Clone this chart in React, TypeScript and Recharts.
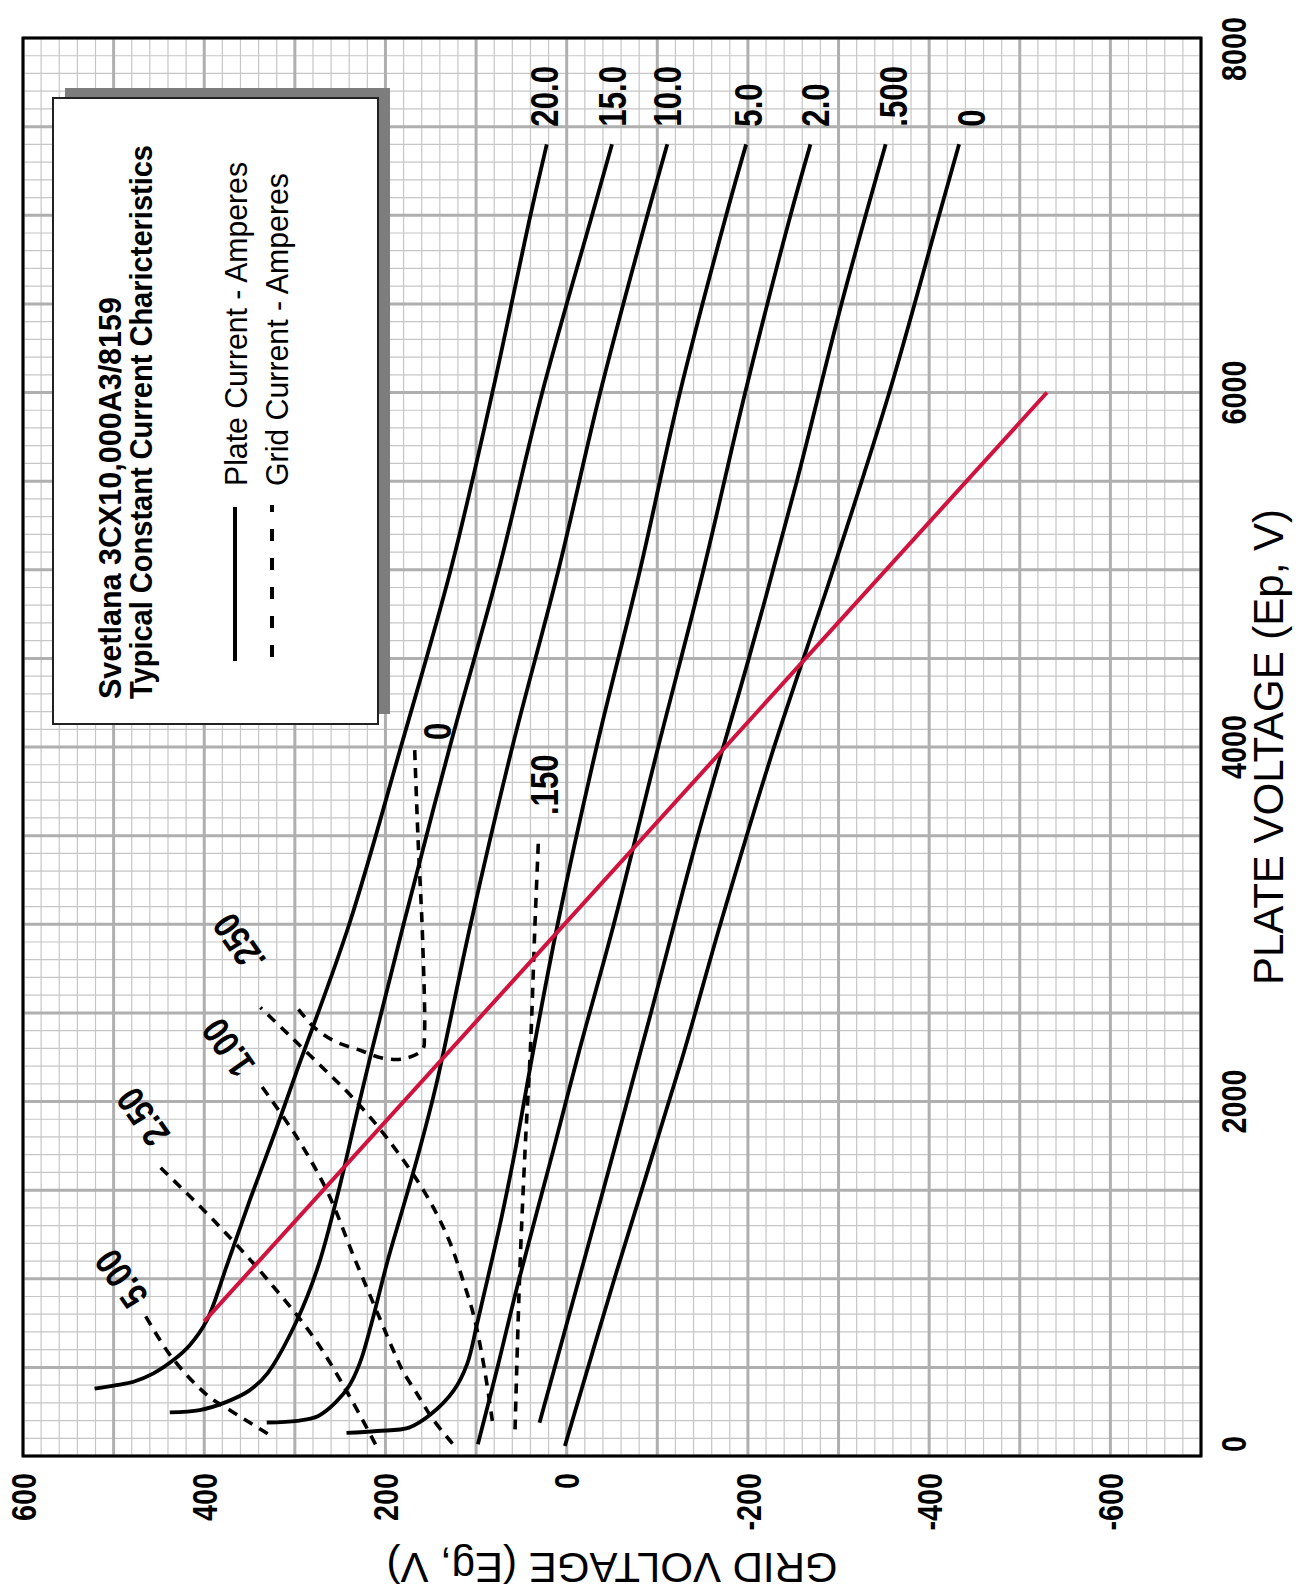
import React from 'react';
import {
  ComposedChart,
  Line,
  Scatter,
  XAxis,
  YAxis,
  CartesianGrid,
  ReferenceArea,
} from 'recharts';

// ---------- chart size (unrotated: plate voltage horizontal, grid voltage vertical) ----------
const W = 1591;
const H = 1303;

// ---------- axis ticks ----------
const plateTicks = [0, 2000, 4000, 6000, 8000];
const gridTicks = [600, 400, 200, 0, -200, -400, -600];
const range = (a: number, b: number, s: number) => {
  const r: number[] = [];
  for (let v = a; v <= b; v += s) r.push(v);
  return r;
};
const plateMinorTicks = range(0, 8000, 100);
const plateMajorTicks = range(0, 8000, 500);
const gridMinorTicks = range(-700, 600, 20);
const gridMajorTicks = range(-700, 600, 100);

// ---------- plate current curves (ep = plate V, eg = grid V) ----------
const ia20 = [
  { ep: 380, eg: 521 }, { ep: 400, eg: 497 }, { ep: 419, eg: 478 }, { ep: 466, eg: 456 },
  { ep: 541, eg: 434 }, { ep: 625, eg: 416 }, { ep: 766, eg: 397 }, { ep: 1075, eg: 375 },
  { ep: 1453, eg: 349 }, { ep: 1811, eg: 323 }, { ep: 2170, eg: 298 }, { ep: 3000, eg: 240 },
  { ep: 4000, eg: 183 }, { ep: 5000, eg: 128 }, { ep: 6000, eg: 82 }, { ep: 7000, eg: 40 },
  { ep: 7400, eg: 22 },
];
const ia15 = [
  { ep: 246, eg: 438 }, { ep: 259, eg: 405 }, { ep: 304, eg: 376 }, { ep: 370, eg: 350 },
  { ep: 468, eg: 330 }, { ep: 773, eg: 297 }, { ep: 1075, eg: 274 }, { ep: 1490, eg: 252 },
  { ep: 1925, eg: 232 }, { ep: 2289, eg: 215 }, { ep: 3000, eg: 180 }, { ep: 4000, eg: 129 },
  { ep: 5000, eg: 75 }, { ep: 6000, eg: 27 }, { ep: 7000, eg: -28 }, { ep: 7400, eg: -50 },
];
const ia10 = [
  { ep: 189, eg: 331 }, { ep: 198, eg: 297 }, { ep: 226, eg: 274 }, { ep: 302, eg: 255 },
  { ep: 396, eg: 240 }, { ep: 528, eg: 228 }, { ep: 736, eg: 216 }, { ep: 1113, eg: 197 },
  { ep: 1377, eg: 182 }, { ep: 1717, eg: 163 }, { ep: 2094, eg: 144 }, { ep: 3000, eg: 106 },
  { ep: 4000, eg: 60 }, { ep: 5000, eg: 9 }, { ep: 6000, eg: -37 }, { ep: 7000, eg: -89 },
  { ep: 7400, eg: -111 },
];
const ia5 = [
  { ep: 130, eg: 243 }, { ep: 141, eg: 209 }, { ep: 160, eg: 174 }, { ep: 235, eg: 150 },
  { ep: 367, eg: 125 }, { ep: 517, eg: 110 }, { ep: 743, eg: 99 }, { ep: 1006, eg: 87 },
  { ep: 1344, eg: 72 }, { ep: 1720, eg: 57 }, { ep: 2283, eg: 37 }, { ep: 3000, eg: 10 },
  { ep: 4000, eg: -33 }, { ep: 5000, eg: -81 }, { ep: 6000, eg: -125 }, { ep: 7000, eg: -176 },
  { ep: 7400, eg: -198 },
];
const ia2 = [
  { ep: 66, eg: 98 }, { ep: 508, eg: 76 }, { ep: 968, eg: 54 }, { ep: 1720, eg: 15 },
  { ep: 2289, eg: -14 }, { ep: 3000, eg: -52 }, { ep: 4000, eg: -101 }, { ep: 5000, eg: -151 },
  { ep: 6000, eg: -197 }, { ep: 7000, eg: -247 }, { ep: 7400, eg: -269 },
];
const ia05 = [
  { ep: 188, eg: 30 }, { ep: 1006, eg: -14 }, { ep: 1720, eg: -52 }, { ep: 2500, eg: -93 },
  { ep: 3505, eg: -145 }, { ep: 4500, eg: -201 }, { ep: 5500, eg: -254 }, { ep: 6495, eg: -303 },
  { ep: 7400, eg: -352 },
];
const ia0 = [
  { ep: 56, eg: 2 }, { ep: 1006, eg: -53 }, { ep: 2237, eg: -127 }, { ep: 3007, eg: -170 },
  { ep: 4002, eg: -229 }, { ep: 5000, eg: -294 }, { ep: 6000, eg: -356 }, { ep: 7000, eg: -411 },
  { ep: 7400, eg: -433 },
];

// ---------- grid current curves ----------
const ig5 = [
  { ep: 125, eg: 330 }, { ep: 260, eg: 372 }, { ep: 340, eg: 396 }, { ep: 558, eg: 436 },
  { ep: 800, eg: 466 },
];
const ig25 = [
  { ep: 66, eg: 211 }, { ep: 340, eg: 240 }, { ep: 660, eg: 278 }, { ep: 1000, eg: 331 },
  { ep: 1321, eg: 388 }, { ep: 1641, eg: 451 },
];
const ig1 = [
  { ep: 70, eg: 126 }, { ep: 210, eg: 148 }, { ep: 350, eg: 165 }, { ep: 472, eg: 180 },
  { ep: 592, eg: 191 }, { ep: 773, eg: 206 }, { ep: 1113, eg: 234 }, { ep: 1490, eg: 264 },
  { ep: 1792, eg: 297 }, { ep: 2110, eg: 340 },
];
const ig025 = [
  { ep: 197, eg: 82 }, { ep: 498, eg: 91 }, { ep: 780, eg: 102 }, { ep: 968, eg: 113 },
  { ep: 1231, eg: 131 }, { ep: 1490, eg: 157 }, { ep: 1792, eg: 198 }, { ep: 2021, eg: 236 },
  { ep: 2199, eg: 271 }, { ep: 2378, eg: 307 }, { ep: 2530, eg: 338 },
];
const ig015 = [
  { ep: 150, eg: 57 }, { ep: 1006, eg: 52 }, { ep: 1720, eg: 46 }, { ep: 2300, eg: 40 },
  { ep: 3000, eg: 35 }, { ep: 3496, eg: 31 },
];
const ig0 = [
  { ep: 2520, eg: 296 }, { ep: 2415, eg: 278 }, { ep: 2340, eg: 256 }, { ep: 2289, eg: 228 },
  { ep: 2246, eg: 204 }, { ep: 2241, eg: 180 }, { ep: 2293, eg: 159 }, { ep: 2368, eg: 157 },
  { ep: 2913, eg: 159 }, { ep: 3477, eg: 164 }, { ep: 4020, eg: 168 },
];

// ---------- load line ----------
const loadLine = [{ ep: 760, eg: 400 }, { ep: 6000, eg: -530 }];

// ---------- curve labels ----------
const plateLabels = [
  { ep: 7500, eg: 25, text: '20.0' },
  { ep: 7500, eg: -50, text: '15.0' },
  { ep: 7500, eg: -111, text: '10.0' },
  { ep: 7500, eg: -200, text: '5.0' },
  { ep: 7500, eg: -274, text: '2.0' },
  { ep: 7500, eg: -360, text: '.500' },
  { ep: 7500, eg: -446, text: '0' },
];
const gridLabelsFlat = [
  { ep: 4040, eg: 143, text: '0' },
  { ep: 3616, eg: 25, text: '.150' },
];
const gridLabelsTilted = [
  { ep: 2894, eg: 362, text: '.250' },
  { ep: 2302, eg: 374, text: '1.00' },
  { ep: 1912, eg: 468, text: '2.50' },
  { ep: 999, eg: 492, text: '5.00' },
];

// ---------- styling ----------
const NARROW = "'Liberation Sans Narrow', 'Liberation Sans', Arial, Helvetica, sans-serif";
const SANS = "'Liberation Sans', Arial, Helvetica, sans-serif";
const narrowW = (s: string, size: number) =>
  size *
  s.split('').reduce((a, c) => a + (c === '.' ? 0.228 : c === '-' ? 0.273 : 0.456), 0);

// centripetal Catmull-Rom curve factory
const catmullRom = (ctx: any) => {
  let pts: number[][] = [];
  return {
    areaStart() {},
    areaEnd() {},
    lineStart() {
      pts = [];
    },
    point(x: number, y: number) {
      pts.push([+x, +y]);
    },
    lineEnd() {
      if (!pts.length) return;
      ctx.moveTo(pts[0][0], pts[0][1]);
      if (pts.length === 1) return;
      for (let i = 0; i < pts.length - 1; i++) {
        const p0 = pts[Math.max(0, i - 1)];
        const p1 = pts[i];
        const p2 = pts[i + 1];
        const p3 = pts[Math.min(pts.length - 1, i + 2)];
        const l01 = Math.hypot(p1[0] - p0[0], p1[1] - p0[1]);
        const l12 = Math.hypot(p2[0] - p1[0], p2[1] - p1[1]);
        const l23 = Math.hypot(p3[0] - p2[0], p3[1] - p2[1]);
        const a01 = Math.sqrt(l01), a12 = Math.sqrt(l12), a23 = Math.sqrt(l23);
        let c1 = p1, c2 = p2;
        if (l01 > 1e-6) {
          const a = 2 * l01 + 3 * a01 * a12 + l12;
          const n = 3 * a01 * (a01 + a12);
          c1 = [(p1[0] * a - p0[0] * l12 + p2[0] * l01) / n, (p1[1] * a - p0[1] * l12 + p2[1] * l01) / n];
        }
        if (l23 > 1e-6) {
          const b = 2 * l23 + 3 * a23 * a12 + l12;
          const m = 3 * a23 * (a23 + a12);
          c2 = [(p2[0] * b + p1[0] * l23 - p3[0] * l12) / m, (p2[1] * b + p1[1] * l23 - p3[1] * l12) / m];
        }
        ctx.bezierCurveTo(c1[0], c1[1], c2[0], c2[1], p2[0], p2[1]);
      }
    },
  };
};

const GridTick = (props: any) => {
  const { x, y, payload } = props;
  const s = String(payload.value);
  return (
    <text x={x} y={y} dy="0.36em" textAnchor="end" fontFamily={NARROW} fontWeight={700}
      fontSize={35} fill="#000" textLength={narrowW(s, 35)} lengthAdjust="spacingAndGlyphs">
      {s}
    </text>
  );
};
const PlateTick = (props: any) => {
  const { x, y, payload } = props;
  const s = String(payload.value);
  const shift = payload.value === 0 ? 12 : payload.value === 8000 ? -11 : 0;
  return (
    <text x={x + shift} y={y} dy="0.36em" textAnchor="middle" fontFamily={NARROW} fontWeight={700}
      fontSize={35} fill="#000" textLength={narrowW(s, 35)} lengthAdjust="spacingAndGlyphs">
      {s}
    </text>
  );
};

const FlatLabel = (props: any) => {
  const { cx, cy, payload } = props;
  const s = payload.text;
  return (
    <text x={cx} y={cy} dy="0.36em" textAnchor="start" fontFamily={NARROW} fontWeight={700}
      fontSize={38} fill="#000" textLength={narrowW(s, 38)} lengthAdjust="spacingAndGlyphs">
      {s}
    </text>
  );
};
const TiltLabel = (props: any) => {
  const { cx, cy, payload } = props;
  const s = payload.text;
  return (
    <text x={cx} y={cy} dy="0.36em" textAnchor="middle" fontFamily={NARROW} fontWeight={700}
      fontSize={38} fill="#000" transform={`rotate(-35 ${cx} ${cy})`}
      textLength={narrowW(s, 38)} lengthAdjust="spacingAndGlyphs">
      {s}
    </text>
  );
};

const plateCurves = [ia20, ia15, ia10, ia5, ia2, ia05, ia0];
const gridCurves = [ig5, ig25, ig1, ig025, ig015, ig0];

export default function App() {
  return (
    <div
      style={{
        position: 'absolute',
        left: 0,
        top: 0,
        width: W,
        height: H,
        background: '#fff',
        transform: `translate(0px, ${W}px) rotate(-90deg)`,
        transformOrigin: '0 0',
      }}
    >
      <ComposedChart width={W} height={H} margin={{ top: 23, right: 38, bottom: 42, left: 15 }}>
        <CartesianGrid
          stroke="#c6c6c6"
          strokeWidth={1.2}
          verticalValues={plateMinorTicks}
          horizontalValues={gridMinorTicks}
        />
        <CartesianGrid
          stroke="#afafaf"
          strokeWidth={3}
          verticalValues={plateMajorTicks}
          horizontalValues={gridMajorTicks}
        />

        <XAxis
          type="number"
          dataKey="ep"
          domain={[0, 8000]}
          ticks={plateTicks}
          interval={0}
          axisLine={false}
          tickLine={false}
          tickSize={0}
          tickMargin={32}
          height={60}
          tick={<PlateTick />}
          label={(p: any) => {
            const vb = p.viewBox || {};
            const cx = vb.x + vb.width / 2;
            const cy = vb.y + 67;
            return (
              <text x={cx} y={cy} dy="0.36em" textAnchor="middle" fontFamily={SANS}
                fontSize={42} fill="#000">
                PLATE VOLTAGE (Ep, V)
              </text>
            );
          }}
        />
        <YAxis
          type="number"
          domain={[-700, 600]}
          ticks={gridTicks}
          interval={0}
          axisLine={false}
          tickLine={false}
          tickSize={0}
          tickMargin={17}
          width={120}
          tick={<GridTick />}
          label={(p: any) => {
            const vb = p.viewBox || {};
            const cx = vb.x + 8;
            const cy = vb.y + vb.height / 2;
            return (
              <text x={cx} y={cy} dy="0.36em" textAnchor="middle" fontFamily={SANS}
                fontSize={42} fill="#000" transform={`rotate(-90 ${cx} ${cy})`}>
                GRID VOLTAGE (Eg, V)
              </text>
            );
          }}
        />

        {gridCurves.map((d, i) => (
          <Line key={`g${i}`} data={d} dataKey="eg" type={catmullRom as any} stroke="#000"
            strokeWidth={3.6} strokeDasharray="10 8" dot={false} activeDot={false}
            isAnimationActive={false} />
        ))}
        {plateCurves.map((d, i) => (
          <Line key={`p${i}`} data={d} dataKey="eg" type={catmullRom as any} stroke="#000"
            strokeWidth={3.8} dot={false} activeDot={false} isAnimationActive={false} />
        ))}
        <Line data={loadLine} dataKey="eg" type="linear" stroke="#d0123e" strokeWidth={4}
          dot={false} activeDot={false} isAnimationActive={false} />

        <Scatter data={plateLabels} dataKey="eg" shape={<FlatLabel />} isAnimationActive={false} />
        <Scatter data={gridLabelsFlat} dataKey="eg" shape={<FlatLabel />} isAnimationActive={false} />
        <Scatter data={gridLabelsTilted} dataKey="eg" shape={<TiltLabel />} isAnimationActive={false} />

        <ReferenceArea x1={0} x2={8000} y1={-700} y2={600} fill="none" fillOpacity={0}
          stroke="#000" strokeWidth={3} ifOverflow="visible" />
      </ComposedChart>

      <svg width={W} height={H} style={{ position: 'absolute', left: 0, top: 0, pointerEvents: 'none' }}>
        <rect x={877} y={65} width={626} height={325} fill="#7d7d7d" />
        <rect x={867} y={53} width={626} height={325} fill="#fff" stroke="#222" strokeWidth={2} />
        <text x={892} y={121} fontFamily={NARROW} fontWeight={700} fontSize={31} fill="#000"
          textLength={402} lengthAdjust="spacingAndGlyphs">
          Svetlana 3CX10,000A3/8159
        </text>
        <text x={892} y={152} fontFamily={NARROW} fontWeight={700} fontSize={31} fill="#000"
          textLength={554} lengthAdjust="spacingAndGlyphs">
          Typical Constant Current Charicteristics
        </text>
        <line x1={930} x2={1084} y1={235} y2={235} stroke="#000" strokeWidth={4} />
        <text x={1105} y={247} fontFamily={NARROW} fontSize={32} fill="#000"
          textLength={324} lengthAdjust="spacingAndGlyphs">
          Plate Current - Amperes
        </text>
        <line x1={934} x2={1086} y1={272} y2={272} stroke="#000" strokeWidth={4}
          strokeDasharray="12 17" />
        <text x={1105} y={288} fontFamily={NARROW} fontSize={32} fill="#000"
          textLength={313} lengthAdjust="spacingAndGlyphs">
          Grid Current - Amperes
        </text>
      </svg>
    </div>
  );
}
